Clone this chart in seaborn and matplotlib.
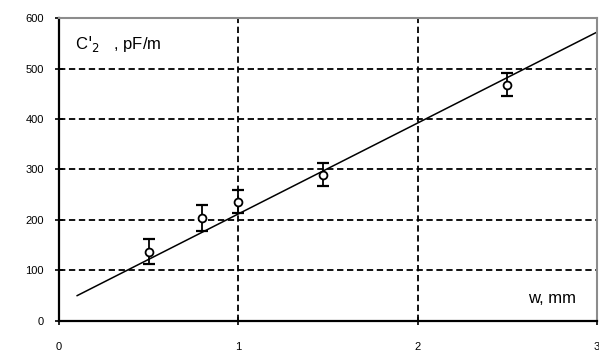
import matplotlib
matplotlib.use("Agg")
import matplotlib.pyplot as plt
import seaborn as sns
import pandas as pd

# Measured capacitance per unit length vs strip width
w_mm = [0.5, 0.8, 1.0, 1.47, 2.5]
c_pf_m = [137, 204, 236, 290, 468]
c_err = [25, 26, 23, 23, 23]

# Linear fit endpoints
fit_w = [0.1, 3.0]
fit_c = [50, 572]

x_ticks = [0, 1, 2, 3]
y_ticks = [0, 100, 200, 300, 400, 500, 600]

sns.set_theme(style="white")
plt.rcParams["font.family"] = ["Liberation Sans", "DejaVu Sans"]

fig = plt.figure(figsize=(5.99, 3.58), dpi=100)
ax = fig.add_axes([0.0985, 0.1034, 0.898, 0.8463])

meas = pd.DataFrame({"w": w_mm, "c": c_pf_m})
fit = pd.DataFrame({"w": fit_w, "c": fit_c})

sns.lineplot(data=fit, x="w", y="c", color="black", linewidth=1.1, ax=ax)
ax.errorbar(w_mm, c_pf_m, yerr=c_err, fmt="none", ecolor="black",
            elinewidth=1.3, capsize=4, capthick=1.6, zorder=3)
sns.scatterplot(data=meas, x="w", y="c", marker="o", s=32,
                facecolor="white", edgecolor="black", linewidth=1.3,
                ax=ax, zorder=4)

ax.set_xlim(0, 3)
ax.set_ylim(0, 600)
ax.set_xticks(x_ticks)
ax.set_yticks(y_ticks)
ax.set_xticklabels([str(t) for t in x_ticks])
ax.set_yticklabels([str(t) for t in y_ticks])
ax.set_xlabel("")
ax.set_ylabel("")

ax.grid(True, color="black", linestyle=(0, (3.5, 2)), linewidth=1.3)
ax.set_axisbelow(True)

for side in ("left", "bottom"):
    ax.spines[side].set_color("black")
    ax.spines[side].set_linewidth(1.6)
for side in ("top", "right"):
    ax.spines[side].set_color("#8c8c8c")
    ax.spines[side].set_linewidth(1.5)

ax.tick_params(axis="both", direction="inout", length=6, width=1.2,
               color="black", labelsize=8, labelcolor="black",
               left=True, bottom=True)
ax.tick_params(axis="x", pad=12)
ax.tick_params(axis="y", pad=8)

ax.text(0.03, 0.915, r"C$'_2$   , pF/m", transform=ax.transAxes,
        fontsize=12, ha="left", va="center", color="black")
ax.text(0.962, 0.075, "w, mm", transform=ax.transAxes,
        fontsize=12, ha="right", va="center", color="black")

fig.savefig("out.png", dpi=100, facecolor="white")
